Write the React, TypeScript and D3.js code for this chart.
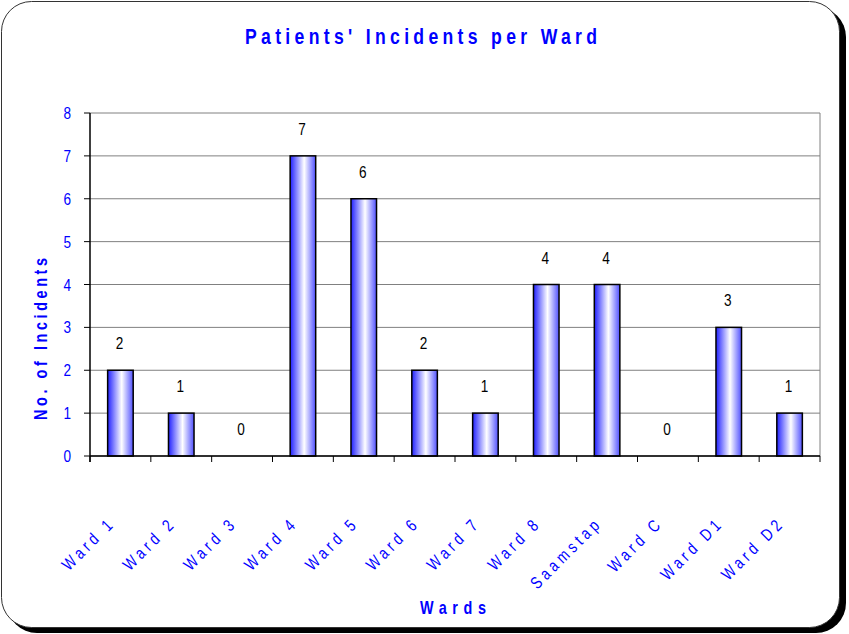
import React from "react";
import * as d3 from "d3";

const categories = ["Ward 1", "Ward 2", "Ward 3", "Ward 4", "Ward 5", "Ward 6", "Ward 7", "Ward 8", "Saamstap", "Ward C", "Ward D1", "Ward D2"];
const values = [2, 1, 0, 7, 6, 2, 1, 4, 4, 0, 3, 1];
const yTicks = [0, 1, 2, 3, 4, 5, 6, 7, 8];
const title = "Patients' Incidents per Ward";
const yTitle = "No. of Incidents";
const xTitle = "Wards";

const W = 849, H = 634;
const plot = { left: 90, right: 820, top: 113, bottom: 456 };
const BLUE = "#0000ff";
const FONT = "'Liberation Sans', Arial, sans-serif";

export default function App() {
  const x = d3.scaleBand<string>().domain(categories).range([plot.left, plot.right]).paddingInner(0).paddingOuter(0);
  const y = d3.scaleLinear().domain([0, 8]).range([plot.bottom, plot.top]);
  const bw = x.bandwidth() * 0.42;
  const bounds = categories.map((c) => x(c)!).concat([plot.right]);
  const SX = 0.8;
  return (
    <svg width={W} height={H} style={{ position: "fixed", left: 0, top: 0, background: "#fff" }} fontFamily={FONT}>
      <defs>
        <linearGradient id="barGrad" x1="0" x2="1" y1="0" y2="0">
          <stop offset="0%" stopColor="#2020ff" />
          <stop offset="55%" stopColor="#ffffff" />
          <stop offset="100%" stopColor="#5050ff" />
        </linearGradient>
      </defs>
      <rect x={7} y={7} width={839} height={626} rx={30} ry={30} fill="#000" />
      <rect x={1.5} y={1.5} width={838} height={626} rx={30} ry={30} fill="#fff" stroke="#333" strokeWidth={1} />

      <text transform={`translate(245,44) scale(${SX},1)`} fill={BLUE} fontWeight="bold" fontSize={22} textLength={352 / SX} lengthAdjust="spacing">{title}</text>

      {/* gridlines */}
      {yTicks.map((t) => (
        <line key={"g" + t} x1={plot.left} x2={plot.right} y1={y(t)} y2={y(t)} stroke="#808080" strokeWidth={1} />
      ))}
      <line x1={plot.right} x2={plot.right} y1={plot.top} y2={plot.bottom} stroke="#808080" strokeWidth={1} />

      {/* bars */}
      {categories.map((c, i) => {
        const v = values[i];
        const cx = x(c)! + x.bandwidth() / 2;
        return (
          <g key={c}>
            {v > 0 && (
              <rect x={cx - bw / 2} y={y(v)} width={bw} height={y(0) - y(v)} fill="url(#barGrad)" stroke="#000" strokeWidth={1.5} />
            )}
            <text transform={`translate(${cx - 1},${y(v) - 21}) scale(${SX},1)`} textAnchor="middle" fontSize={17} fill="#000">{v}</text>
          </g>
        );
      })}

      {/* axes */}
      <line x1={plot.left} x2={plot.left} y1={plot.top} y2={plot.bottom + 6} stroke="#000" strokeWidth={1.5} />
      <line x1={plot.left} x2={plot.right} y1={plot.bottom} y2={plot.bottom} stroke="#000" strokeWidth={1.5} />
      {yTicks.map((t) => (
        <g key={"t" + t}>
          <line x1={plot.left - 6} x2={plot.left} y1={y(t)} y2={y(t)} stroke="#000" strokeWidth={1} />
          <text transform={`translate(71,${y(t) + 6}) scale(${SX},1)`} textAnchor="end" fontSize={17} fill={BLUE}>{t}</text>
        </g>
      ))}
      {bounds.map((b, i) => (
        <line key={"xt" + i} x1={b} x2={b} y1={plot.bottom} y2={plot.bottom + 6} stroke="#000" strokeWidth={1} />
      ))}
      {categories.map((c) => {
        const cx = x(c)! + x.bandwidth() / 2;
        return (
          <text key={"l" + c} transform={`translate(${cx - 4},${plot.bottom + 68}) rotate(-45) scale(${SX},1)`} textAnchor="end" fontSize={17} fill={BLUE} letterSpacing={5}>{c}</text>
        );
      })}

      <text transform={`translate(47,339) rotate(-90) scale(${SX},1)`} textAnchor="middle" fill={BLUE} fontWeight="bold" fontSize={18} textLength={162 / SX} lengthAdjust="spacing">{yTitle}</text>
      <text transform={`translate(420,614) scale(${SX},1)`} fill={BLUE} fontWeight="bold" fontSize={18} textLength={66 / SX} lengthAdjust="spacing">{xTitle}</text>
    </svg>
  );
}
